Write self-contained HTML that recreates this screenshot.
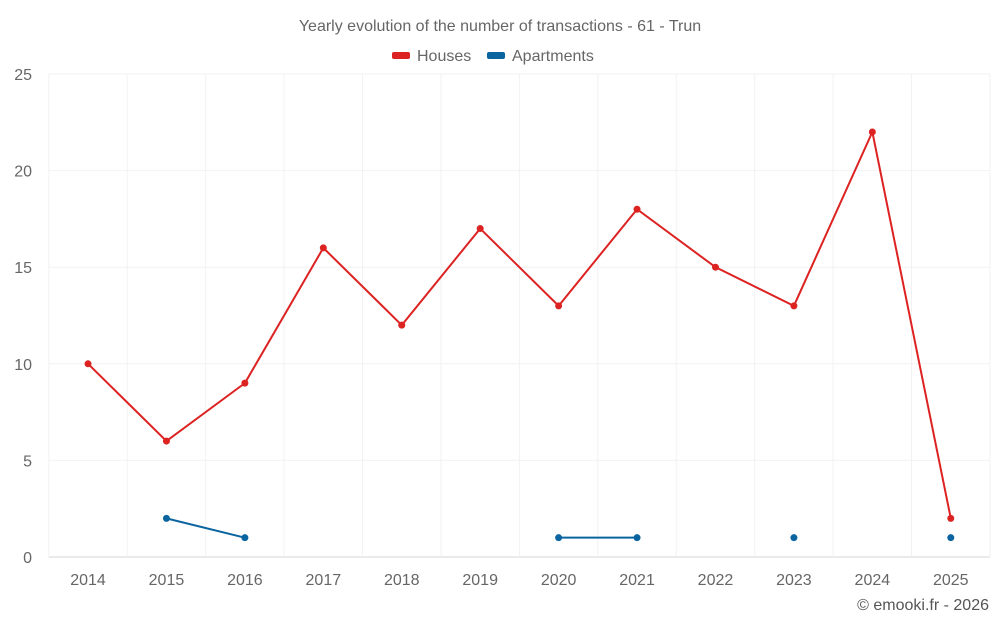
<!DOCTYPE html>
<html><head><meta charset="utf-8">
<style>
body{margin:0;background:#fff;font-family:"Liberation Sans",sans-serif;}
svg text{font-family:"Liberation Sans",sans-serif;}
</style></head>
<body>
<svg id="chart" width="1000" height="625" xmlns="http://www.w3.org/2000/svg">
<text x="500" y="31" text-anchor="middle" font-size="16" fill="#666">Yearly evolution of the number of transactions - 61 - Trun</text>
<g><rect x="392" y="52" width="18" height="7" rx="2" fill="#dd2222"/><text x="417" y="61" font-size="16" fill="#666">Houses</text></g>
<g><rect x="487" y="52" width="18" height="7" rx="2" fill="#0a64a0"/><text x="512" y="61" font-size="16" fill="#666">Apartments</text></g>
<g id="grid"></g><g id="axes"></g><g id="series"></g>
<text x="989" y="610" text-anchor="end" font-size="16" fill="#555">© emooki.fr - 2026</text>
</svg>
<script>
const years=[2014,2015,2016,2017,2018,2019,2020,2021,2022,2023,2024,2025];
const houses=[10,6,9,16,12,17,13,18,15,13,22,2];
const apartments=[null,2,1,null,null,null,1,1,null,1,null,1];
const yTicks=[0,5,10,15,20,25];
const L=48.8,R=990,T=74,B=557,yMax=25;
const bw=(R-L)/years.length;
const xS=i=>L+bw*(i+0.5);
const yS=v=>B-(v/yMax)*(B-T);
const NS="http://www.w3.org/2000/svg";
function mk(tag,attrs,parent){const e=document.createElementNS(NS,tag);for(const k in attrs)e.setAttribute(k,attrs[k]);parent.appendChild(e);return e;}
const grid=document.getElementById('grid'),axes=document.getElementById('axes'),ser=document.getElementById('series');
yTicks.forEach(t=>{
 const l=mk('line',{x1:L,x2:R,y1:yS(t),y2:yS(t),stroke:t===0?'#d6d6d6':'#f2f2f2','stroke-width':1},grid);
 
 
 const tx=mk('text',{x:32,y:yS(t)+6,'text-anchor':'end','font-size':16,fill:'#666'},axes);
 tx.textContent=t;
 
 
});
for(let i=0;i<=years.length;i++){
 const l=mk('line',{x1:L+bw*i,x2:L+bw*i,y1:T,y2:B,stroke:'#f2f2f2','stroke-width':1},grid);
 
 
}
years.forEach((y,i)=>{
 const tx=mk('text',{x:xS(i),y:585,'text-anchor':'middle','font-size':16,fill:'#666'},axes);
 tx.textContent=y;
 
 
});
function draw(vals,color,name){
 let seg=[];
 const flush=()=>{if(seg.length>1){const p=mk('polyline',{points:seg.join(' '),fill:'none',stroke:color,'stroke-width':2},ser);
 
 }seg=[];};
 vals.forEach((v,i)=>{if(v===null){flush();return;}seg.push(xS(i)+','+yS(v));});
 flush();
 vals.forEach((v,i)=>{if(v===null)return;
  const c=mk('circle',{cx:xS(i),cy:yS(v),r:3.5,fill:color},ser);
  
  
 });
}
draw(houses,'#dd2222','houses');
draw(apartments,'#0a64a0','apartments');
</script>
</body></html>
